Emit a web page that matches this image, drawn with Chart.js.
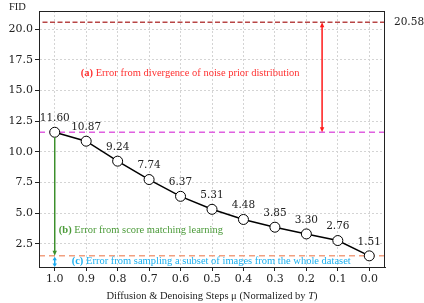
<!DOCTYPE html>
<html>
<head>
<meta charset="utf-8">
<script src="https://cdn.jsdelivr.net/npm/chart.js@4"></script>
<style>
  html, body { margin: 0; padding: 0; background: #fff; }
  #wrap { width: 424px; height: 303px; }
</style>
</head>
<body>
<div id="wrap"><canvas id="fidChart" width="424" height="303"></canvas></div>
<script>
// data
const steps = [1.0, 0.9, 0.8, 0.7, 0.6, 0.5, 0.4, 0.3, 0.2, 0.1, 0.0];
const fid = [11.60, 10.87, 9.24, 7.74, 6.37, 5.31, 4.48, 3.85, 3.30, 2.76, 1.51];
const priorFid = 20.58;   // divergence of noise prior
const fullFid = 11.60;    // mu = 1.0
const subsetFid = 1.51;   // best achievable
const xTicks = [1.0, 0.9, 0.8, 0.7, 0.6, 0.5, 0.4, 0.3, 0.2, 0.1, 0.0];
const yTicks = [2.5, 5.0, 7.5, 10.0, 12.5, 15.0, 17.5, 20.0];
const xRange = [-0.05, 1.05];
const yRange = [0.6, 21.5];

const tickFont = { family: 'DejaVu Serif', size: 11 };
const serif = 'Liberation Serif';

function hline(value, color, dash) {
    return {
        type: 'line',
        data: [{ x: xRange[0], y: value }, { x: xRange[1], y: value }],
        borderColor: color,
        borderWidth: 1.5,
        borderDash: dash,
        pointRadius: 0,
        order: 2
    };
}

function arrowHead(ctx, x, y, dir, color, len) {
    // dir = 1 points down, -1 points up
    ctx.fillStyle = color;
    ctx.beginPath();
    ctx.moveTo(x, y);
    ctx.lineTo(x - 2.2, y - dir * len);
    ctx.lineTo(x + 2.2, y - dir * len);
    ctx.closePath();
    ctx.fill();
}

function vArrow(ctx, x, y1, y2, color, both, len) {
    ctx.strokeStyle = color;
    ctx.lineWidth = 1.5;
    ctx.beginPath();
    ctx.moveTo(x, both ? y1 + len - 1 : y1);
    ctx.lineTo(x, y2 - len + 1);
    ctx.stroke();
    arrowHead(ctx, x, y2, 1, color, len);
    if (both) arrowHead(ctx, x, y1, -1, color, len);
}

function labelText(ctx, x, y, bold, rest, color) {
    ctx.fillStyle = color;
    ctx.textBaseline = 'middle';
    ctx.textAlign = 'left';
    ctx.font = 'bold 10.5px "' + serif + '"';
    ctx.fillText(bold, x, y);
    const w = ctx.measureText(bold + ' ').width;
    ctx.font = '10.5px "' + serif + '"';
    ctx.fillText(rest, x + w, y);
}

const extras = {
    id: 'extras',
    afterDatasetsDraw(chart) {
        const ctx = chart.ctx;
        const xs = chart.scales.x, ys = chart.scales.y;
        const area = chart.chartArea;
        ctx.save();

        // arrows
        vArrow(ctx, xs.getPixelForValue(0.15), ys.getPixelForValue(priorFid), ys.getPixelForValue(fullFid), '#ff1a1a', true, 5);
        vArrow(ctx, xs.getPixelForValue(steps[0]), ys.getPixelForValue(fullFid) + 5, ys.getPixelForValue(subsetFid), '#3c8f2c', false, 5);
        vArrow(ctx, xs.getPixelForValue(steps[0]), ys.getPixelForValue(subsetFid) + 1, area.bottom, '#1aa8ee', true, 3.5);

        // annotations
        labelText(ctx, xs.getPixelForValue(0.917), ys.getPixelForValue(16.4), '(a)', 'Error from divergence of noise prior distribution', '#ff3030');
        labelText(ctx, xs.getPixelForValue(0.987), ys.getPixelForValue(3.6), '(b)', 'Error from score matching learning', '#4a9a38');
        labelText(ctx, xs.getPixelForValue(0.946), ys.getPixelForValue(1.1), '(c)', 'Error from sampling a subset of images from the whole dataset', '#1ab0f0');

        // value labels above the markers
        const meta = chart.getDatasetMeta(3);
        ctx.font = '10.5px "DejaVu Serif"';
        ctx.fillStyle = '#222';
        ctx.textAlign = 'center';
        ctx.textBaseline = 'middle';
        meta.data.forEach((pt, i) => {
            ctx.fillText(fid[i].toFixed(2), pt.x, pt.y - 14);
        });

        // frame around the axes
        ctx.strokeStyle = '#222';
        ctx.lineWidth = 1;
        ctx.strokeRect(area.left + 0.5, area.top + 0.5, area.right - area.left - 1, area.bottom - area.top);

        // value of the prior line, outside the axes
        ctx.fillStyle = '#222';
        ctx.textAlign = 'left';
        ctx.fillText(priorFid.toFixed(2), area.right + 9, ys.getPixelForValue(priorFid));

        // axis titles
        ctx.font = '10.5px "' + serif + '"';
        ctx.fillText('FID', 9, 7);
        const a = 'Diffusion & Denoising Steps μ (Normalized by ';
        const wa = ctx.measureText(a).width;
        ctx.font = 'italic 10.5px "' + serif + '"';
        const wt = ctx.measureText('T').width;
        ctx.font = '10.5px "' + serif + '"';
        const wc = ctx.measureText(')').width;
        const x0 = (area.left + area.right) / 2 - (wa + wt + wc) / 2;
        const ty = 296;
        ctx.fillText(a, x0, ty);
        ctx.font = 'italic 10.5px "' + serif + '"';
        ctx.fillText('T', x0 + wa, ty);
        ctx.font = '10.5px "' + serif + '"';
        ctx.fillText(')', x0 + wa + wt, ty);

        ctx.restore();
    }
};

const ctx = document.getElementById('fidChart').getContext('2d');
const chart = new Chart(ctx, {
    type: 'line',
    data: {
        datasets: [
            hline(priorFid, '#b84646', [5, 2.5]),
            hline(fullFid, '#e060e0', [6, 4]),
            hline(subsetFid, '#f2a080', [6, 4]),
            {
                type: 'line',
                data: steps.map((s, i) => ({ x: s, y: fid[i] })),
                borderColor: '#000',
                borderWidth: 1.5,
                pointRadius: 5,
                pointBackgroundColor: '#fff',
                pointBorderColor: '#000',
                pointBorderWidth: 1,
                order: 1
            }
        ]
    },
    options: {
        responsive: false,
        animation: false,
        devicePixelRatio: 1,
        layout: { padding: { left: 0, right: 39, top: 11, bottom: 0 } },
        plugins: {
            legend: { display: false },
            tooltip: { enabled: false }
        },
        scales: {
            x: {
                type: 'linear',
                reverse: true,
                min: xRange[0],
                max: xRange[1],
                afterBuildTicks: scale => { scale.ticks = xTicks.map(v => ({ value: v })); },
                afterFit: scale => { scale.height = 36; },
                ticks: {
                    font: tickFont,
                    color: '#222',
                    padding: 2,
                    maxRotation: 0,
                    callback: v => Number(v).toFixed(1)
                },
                grid: { color: '#d4d4d4', tickColor: '#222', tickLength: 4 },
                border: { display: true, color: '#222', dash: [2, 2] }
            },
            y: {
                type: 'linear',
                min: yRange[0],
                max: yRange[1],
                afterBuildTicks: scale => { scale.ticks = yTicks.map(v => ({ value: v })); },
                afterFit: scale => { scale.width = 39; },
                ticks: {
                    font: tickFont,
                    color: '#222',
                    padding: 2,
                    callback: v => Number(v).toFixed(1)
                },
                grid: { color: '#d4d4d4', tickColor: '#222', tickLength: 4 },
                border: { display: true, color: '#222', dash: [2, 2] }
            }
        }
    },
    plugins: [extras]
});
</script>
</body>
</html>
